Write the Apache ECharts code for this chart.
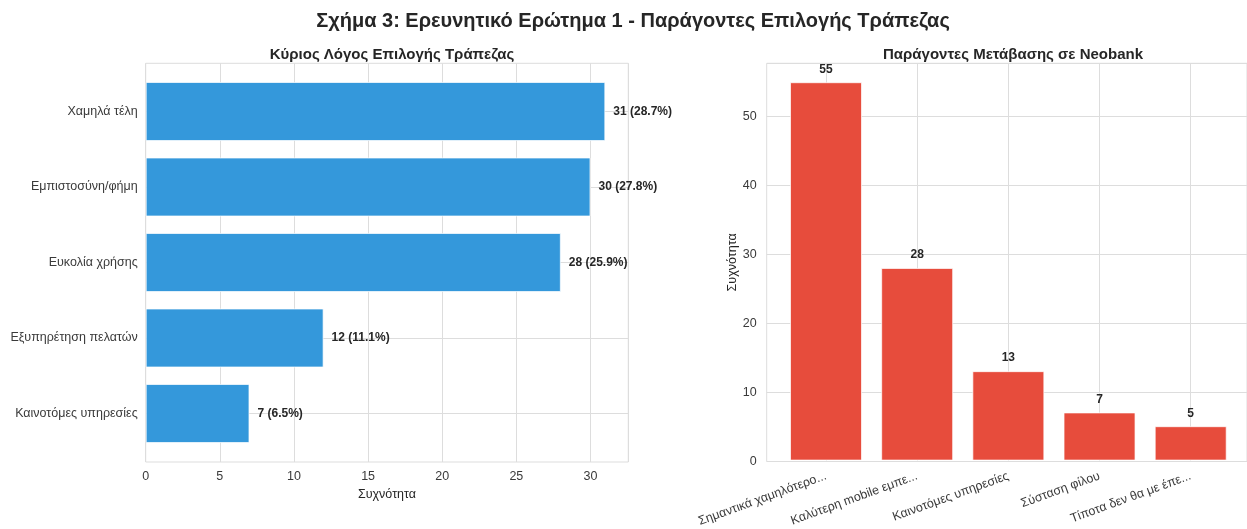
<!DOCTYPE html>
<html>
<head>
<meta charset="utf-8">
<script src="https://cdn.jsdelivr.net/npm/echarts@6/dist/echarts.min.js"></script>
<style>
  html, body { margin: 0; padding: 0; background: #ffffff; }
  #chart { width: 1247px; height: 529px; }
</style>
</head>
<body>
<div id="chart"></div>
<script>
// Left panel: main reason for choosing a bank
const reasonCategories = ['Χαμηλά τέλη', 'Εμπιστοσύνη/φήμη', 'Ευκολία χρήσης', 'Εξυπηρέτηση πελατών', 'Καινοτόμες υπηρεσίες'];
const reasonCounts = [31, 30, 28, 12, 7];

// Right panel: factors for switching to a neobank
const switchCategories = ['Σημαντικά χαμηλότερο...', 'Καλύτερη mobile εμπε...', 'Καινοτόμες υπηρεσίες', 'Σύσταση φίλου', 'Τίποτα δεν θα με έπε...'];
const switchCounts = [55, 28, 13, 7, 5];

const reasonTotal = reasonCounts.reduce((a, b) => a + b, 0);
const reasonMax = Math.max(...reasonCounts) * 1.05;
const switchMax = Math.max(...switchCounts) * 1.05;

const FONT = '"Liberation Sans", Arial, sans-serif';
const GRID_COLOR = '#dddddd';
const TEXT_COLOR = '#262626';
const TICK_COLOR = '#3a3a3a';

const chart = echarts.init(document.getElementById('chart'), null, { renderer: 'canvas' });

const hidden = { show: false };

chart.setOption({
  animation: false,
  backgroundColor: '#ffffff',
  textStyle: { fontFamily: FONT },
  title: [
    {
      text: 'Σχήμα 3: Ερευνητικό Ερώτημα 1 - Παράγοντες Επιλογής Τράπεζας',
      left: 628, top: 6, textAlign: 'center',
      textStyle: { fontFamily: FONT, fontSize: 20, fontWeight: 'bold', color: TEXT_COLOR }
    },
    {
      text: 'Κύριος Λόγος Επιλογής Τράπεζας',
      left: 387, top: 42, textAlign: 'center',
      textStyle: { fontFamily: FONT, fontSize: 15, fontWeight: 'bold', color: TEXT_COLOR }
    },
    {
      text: 'Παράγοντες Μετάβασης σε Neobank',
      left: 1008, top: 42, textAlign: 'center',
      textStyle: { fontFamily: FONT, fontSize: 15, fontWeight: 'bold', color: TEXT_COLOR }
    }
  ],
  grid: [
    // left frame
    { left: 145.7, top: 63.3, width: 482.6, height: 398.7, show: true, borderColor: GRID_COLOR, borderWidth: 1, backgroundColor: '#ffffff' },
    // left bars (category centres at the grid edges)
    { left: 145.7, top: 111.5, width: 482.6, height: 302 },
    // right frame (its right edge runs just past the canvas)
    { left: 766.7, top: 63.3, width: 484, height: 398.2, show: true, borderColor: GRID_COLOR, borderWidth: 1, backgroundColor: '#ffffff' },
    // right bars
    { left: 826, top: 63.3, width: 364.7, height: 398.2 }
  ],
  xAxis: [
    {
      gridIndex: 0, type: 'value', min: 0, max: reasonMax, interval: 5,
      axisLine: hidden, axisTick: hidden,
      axisLabel: { color: TICK_COLOR, fontSize: 12.5, margin: 8, showMaxLabel: false, fontFamily: FONT },
      splitLine: { show: true, lineStyle: { color: GRID_COLOR, width: 1 } },
      name: 'Συχνότητα', nameLocation: 'middle', nameGap: 26,
      nameTextStyle: { color: TEXT_COLOR, fontSize: 12.5, fontFamily: FONT }
    },
    {
      gridIndex: 1, type: 'value', min: 0, max: reasonMax,
      show: false, splitLine: hidden
    },
    {
      gridIndex: 2, type: 'value', min: 0, max: 1, show: false, splitLine: hidden
    },
    {
      gridIndex: 3, type: 'category', data: switchCategories, boundaryGap: false,
      axisLine: hidden, axisTick: hidden,
      axisLabel: { interval: 0, rotate: 20, color: TICK_COLOR, fontSize: 12.5, margin: 15, fontFamily: FONT },
      splitLine: { show: true, interval: 0, lineStyle: { color: GRID_COLOR, width: 1 } }
    }
  ],
  yAxis: [
    {
      gridIndex: 0, type: 'value', min: 0, max: 1, show: false, splitLine: hidden
    },
    {
      gridIndex: 1, type: 'category', data: reasonCategories, inverse: true, boundaryGap: false,
      axisLine: hidden, axisTick: hidden,
      axisLabel: { interval: 0, color: TICK_COLOR, fontSize: 12.5, margin: 8, fontFamily: FONT },
      splitLine: { show: true, interval: 0, lineStyle: { color: GRID_COLOR, width: 1 } }
    },
    {
      gridIndex: 2, type: 'value', min: 0, max: switchMax, interval: 10,
      axisLine: hidden, axisTick: hidden,
      axisLabel: { color: TICK_COLOR, fontSize: 12.5, margin: 10, showMaxLabel: false, fontFamily: FONT },
      splitLine: { show: true, lineStyle: { color: GRID_COLOR, width: 1 } },
      name: 'Συχνότητα', nameLocation: 'middle', nameGap: 27, nameRotate: 90,
      nameTextStyle: { color: TEXT_COLOR, fontSize: 12.5, fontFamily: FONT }
    },
    {
      gridIndex: 3, type: 'value', min: 0, max: switchMax, show: false, splitLine: hidden
    }
  ],
  series: [
    {
      type: 'bar', xAxisIndex: 1, yAxisIndex: 1,
      data: reasonCounts, barWidth: 59, clip: false,
      itemStyle: { color: '#3498db', borderColor: 'rgba(255,255,255,0.7)', borderWidth: 1 },
      label: {
        show: true, position: 'right', distance: 8,
        fontFamily: FONT, fontSize: 12, fontWeight: 'bold', color: TEXT_COLOR,
        formatter: p => p.value + ' (' + (p.value / reasonTotal * 100).toFixed(1) + '%)'
      }
    },
    {
      type: 'bar', xAxisIndex: 3, yAxisIndex: 3,
      data: switchCounts, barWidth: 72, clip: false,
      itemStyle: { color: '#e74c3c', borderColor: 'rgba(255,255,255,0.7)', borderWidth: 1 },
      label: {
        show: true, position: 'top', distance: 7,
        fontFamily: FONT, fontSize: 12, fontWeight: 'bold', color: TEXT_COLOR
      }
    }
  ]
});
</script>
</body>
</html>
